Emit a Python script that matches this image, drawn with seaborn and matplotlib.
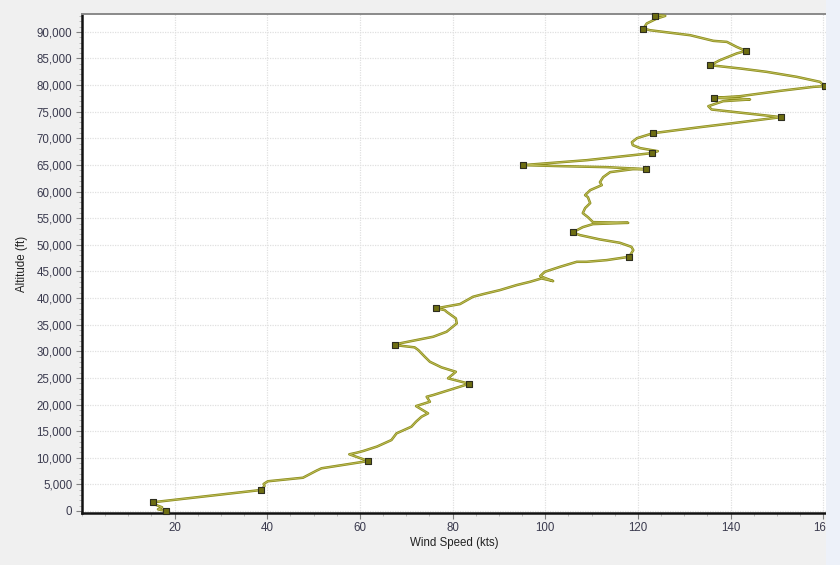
import matplotlib
matplotlib.use("Agg")
import matplotlib.pyplot as plt
import matplotlib.ticker as mticker
from matplotlib.patches import Rectangle
import seaborn as sns
import pandas as pd

# wind profile (kts, ft)
wind_speed = [18.1, 16.4, 17.3, 16.0, 15.3, 38.6, 39.4, 39.2, 40.1, 47.7, 50.6, 51.7, 61.8,
              57.7, 59.3, 60.7, 63.7, 66.8, 67.9, 71.1, 72.1, 73.3, 74.7, 72.1, 75.1, 74.4,
              75.8, 83.6, 79.0, 80.7, 77.6, 75.1, 74.0, 72.6, 71.8, 67.5, 68.6, 72.2, 75.8,
              78.7, 80.9, 80.7, 78.7, 78.3, 76.4, 81.6, 84.4, 86.6, 90.2, 93.8, 96.7, 99.2,
              101.7, 98.9, 99.9, 103.2, 106.8, 108.9, 113.3, 118.1, 119.0, 118.6, 116.1,
              111.8, 107.5, 105.9, 108.1, 110.3, 117.9, 110.3, 109.2, 108.1, 108.6, 109.7,
              109.2, 108.6, 109.7, 111.2, 112.2, 111.8, 112.5, 114.0, 118.9, 121.7, 113.3,
              103.2, 95.2, 109.0, 123.0, 124.3, 120.5, 118.9, 118.7, 119.8, 123.3, 133.4,
              140.5, 150.9, 140.6, 135.9, 135.2, 138.4, 144.2, 141.3, 136.5, 142.1, 150.7,
              157.9, 160.3, 159.3, 154.3, 147.8, 142.1, 137.7, 135.6, 137.7, 141.3, 143.3,
              141.3, 139.2, 136.3, 131.3, 125.5, 122.6, 121.2, 121.9, 124.1, 125.9, 124.4,
              123.7]
altitude = [0, 320, 690, 1130, 1640, 3940, 4690, 5070, 5580, 6250, 7570, 8020, 9390,
            10650, 10950, 11270, 12110, 13330, 14590, 15830, 16770, 17710, 18340, 19710,
            20520, 21460, 21780, 23900, 24920, 26150, 26980, 28030, 28970, 30230, 30740,
            31170, 31490, 32110, 32730, 33670, 35240, 36180, 37420, 37740, 38060, 38870,
            40240, 40740, 41490, 42430, 43050, 43690, 43180, 44120, 44930, 45870, 46810,
            46810, 47130, 47750, 49000, 49620, 50380, 51010, 51820, 52330, 53320, 53890,
            54130, 54260, 55200, 55950, 56890, 57830, 58960, 59330, 60270, 60830, 61210,
            61770, 62710, 63650, 64210, 64210, 64590, 64780, 64970, 65900, 67220, 67590,
            68160, 68720, 69280, 70030, 70970, 72100, 72850, 73980, 74970, 75420, 76040,
            76980, 77300, 77490, 77600, 77920, 78920, 79670, 79800, 80610, 81550, 82490,
            83120, 83550, 83740, 84680, 85940, 86430, 87180, 88120, 88310, 89370, 90000,
            90310, 90630, 91570, 92510, 93000, 93130, 93070]

# highlighted points (square markers)
marker_speed = [18.1, 15.3, 38.6, 61.8, 83.6, 67.5, 76.4, 118.1, 105.9, 121.7, 95.2,
                123.0, 123.3, 150.9, 136.5, 160.3, 135.6, 143.3, 121.2, 123.7]
marker_altitude = [0, 1640, 3940, 9390, 23900, 31170, 38060, 47750, 52330, 64210, 64970,
                   67220, 70970, 73980, 77600, 79800, 83740, 86430, 90630, 93070]

x_ticks = [20, 40, 60, 80, 100, 120, 140, 160]
y_ticks = list(range(0, 90001, 5000))

profile = pd.DataFrame({"speed": wind_speed, "alt": altitude})
points = pd.DataFrame({"speed": marker_speed, "alt": marker_altitude})

sns.set_style("white")
plt.rcParams["font.family"] = ["Liberation Sans", "DejaVu Sans"]

fig = plt.figure(figsize=(8.4, 5.65), dpi=100, facecolor="#f0f0f0")
ax = fig.add_axes([82 / 840, 1 - 512.7 / 565, (826 - 82) / 840, (512.7 - 14.3) / 565])
ax.set_facecolor("white")

# line with a darker rim
sns.lineplot(data=profile, x="speed", y="alt", sort=False, estimator=None,
             color="#8c8c1c", linewidth=1.8, ax=ax, zorder=3)
sns.lineplot(data=profile, x="speed", y="alt", sort=False, estimator=None,
             color="#bdbd58", linewidth=0.7, ax=ax, zorder=4)
sns.scatterplot(data=points, x="speed", y="alt", marker="s", s=20, color="#6e6e12",
                edgecolor="#2e2e20", linewidth=0.8, ax=ax, zorder=5, clip_on=False)

ax.set_xlim(0, 160.6)
ax.set_ylim(-320, 93300)
ax.set_xticks(x_ticks)
ax.set_yticks(y_ticks)
ax.xaxis.set_minor_locator(mticker.MultipleLocator(5))
ax.yaxis.set_minor_locator(mticker.MultipleLocator(1000))
ax.yaxis.set_major_formatter(mticker.FuncFormatter(lambda v, p: f"{int(v):,}"))

ax.grid(True, which="major", color="#e0e0e0", linestyle=(0, (1, 1)), linewidth=0.9)
ax.tick_params(axis="both", which="major", direction="out", length=4, width=0.8,
               color="#808080", labelsize=8.3, labelcolor="#3a3a4e", pad=3)
ax.tick_params(axis="both", which="minor", direction="out", length=2.5, width=0.6,
               color="#b0b0b0")
ax.tick_params(left=True, bottom=True, which="both")

for side in ["left", "bottom"]:
    ax.spines[side].set_color("#111111")
    ax.spines[side].set_linewidth(1.8)
ax.spines["top"].set_color("#8a8a8a")
ax.spines["top"].set_linewidth(1.4)
ax.spines["right"].set_visible(False)

ax.set_xlabel("Wind Speed (kts)", fontsize=8.3, color="#222222", labelpad=2)
ax.set_ylabel("Altitude (ft)", fontsize=8.3, color="#222222", labelpad=6)

# pale strip along the right edge
fig.patches.append(Rectangle((826 / 840, 0), 14 / 840, 1, transform=fig.transFigure,
                             facecolor="#edf1f9", edgecolor="none", zorder=10))

fig.savefig("out.png", dpi=100, facecolor=fig.get_facecolor())
